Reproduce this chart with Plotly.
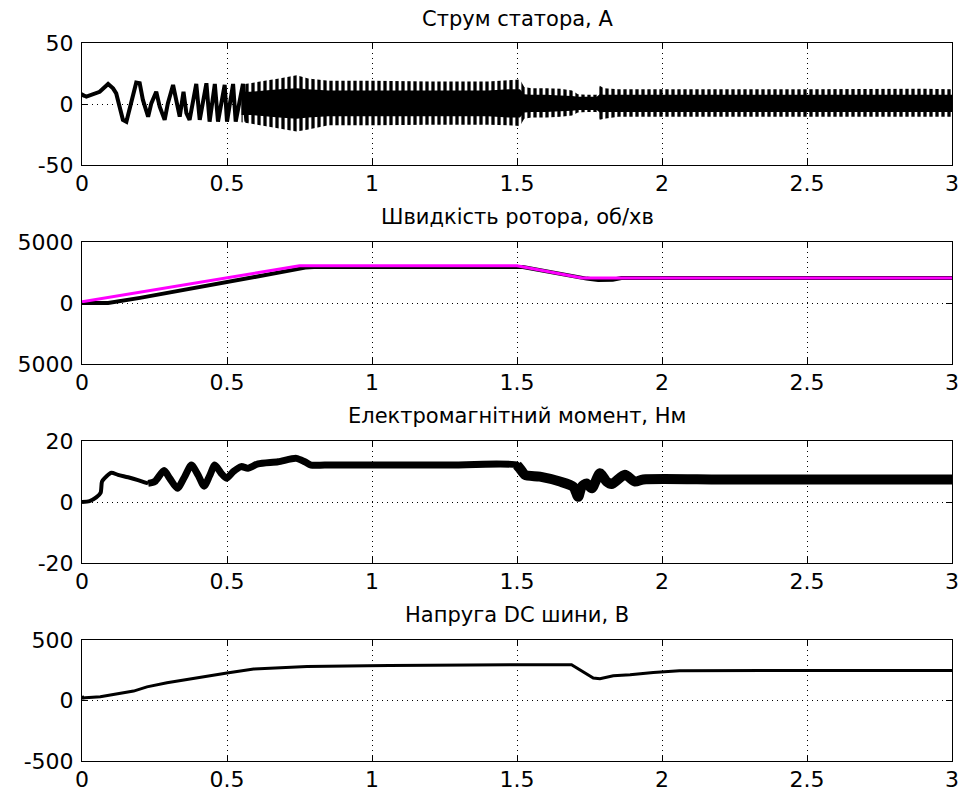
import plotly.graph_objects as go

# ---------------- data ----------------
x_ticks = [0, 0.5, 1, 1.5, 2, 2.5, 3]
x_tick_text = ["0", "0.5", "1", "1.5", "2", "2.5", "3"]

titles = ["Струм статора, А", "Швидкість ротора, об/хв",
          "Електромагнітний момент, Нм", "Напруга DC шини, В"]

# stator current: early visible waveform
cur_t = [0.0, 0.003, 0.015, 0.061, 0.09, 0.107, 0.118, 0.13, 0.141, 0.153, 0.164, 0.176,
         0.187, 0.199, 0.21, 0.228, 0.239, 0.256, 0.268, 0.285, 0.296, 0.314, 0.325, 0.337,
         0.35, 0.36, 0.371, 0.394, 0.406, 0.429, 0.44, 0.458, 0.469, 0.492, 0.5, 0.521,
         0.53, 0.555, 0.567]
cur_v = [5.8, 7.4, 6.0, 10.0, 16.4, 12.8, 8.7, -2.2, -13.0, -14.5, -4.9, 7.4,
         17.5, 17.0, 3.3, -10.4, 0.5, 10.0, -2.2, -13.0, 0.5, 15.6, 1.9, -10.4,
         10.0, -7.5, -13.0, 16.4, -13.0, 17.0, -14.5, 16.4, -14.5, 15.6, -14.5, 16.4,
         -14.5, 16.4, -14.5]

# stator current: dense oscillation envelope (outer spikes) and solid core
band_t = [0.55, 0.58, 0.63, 0.68, 0.74, 0.78, 0.85, 1.0, 1.2, 1.4, 1.47, 1.51, 1.525,
          1.55, 1.6, 1.65, 1.69, 1.71, 1.74, 1.775, 1.785, 1.80, 1.85, 2.0, 2.5, 2.9, 3.0]
band_hi = [16, 17, 19, 21, 23.5, 21, 19, 19, 18.5, 18.5, 19.5, 20, 14,
           13, 13, 12.5, 11, 8, 7.5, 7.5, 15, 13, 12, 12, 12, 12.5, 12]
band_lo = [-15, -16, -18, -20, -22.5, -21, -17.5, -17.5, -17, -17, -17.5, -18, -12,
           -11, -11, -10.5, -9.5, -7, -6.5, -6.5, -13, -12, -10.5, -10.5, -10.5, -10.5, -10.5]
core_hi = [10, 10, 11, 12, 13, 12, 11, 11, 11, 11, 12, 12, 8,
           7.5, 7.5, 7, 6.5, 6, 6, 6, 8, 7.5, 7.5, 7.5, 7.5, 7.5, 7.5]
core_lo = [-9, -9, -10, -11, -12, -11, -10, -10, -10, -10, -11, -11, -7,
           -6.5, -6.5, -6, -5.5, -5, -5, -5, -7, -6.5, -6.5, -6.5, -6.5, -6.5, -6.5]

# rotor speed: reference (magenta) and actual (black)
ref_t = [0.0, 0.75, 1.5, 1.725, 3.0]
ref_v = [100, 3050, 3050, 2050, 2050]
spd_t = [0.0, 0.09, 0.2, 0.4, 0.6, 0.77, 0.8, 1.5, 1.52, 1.74, 1.78, 1.83, 1.86, 3.0]
spd_v = [0, 0, 420, 1250, 2150, 2900, 2950, 2950, 2950, 2000, 1880, 1900, 2050, 2050]

# electromagnetic torque
trq_t = [0.0, 0.026, 0.049, 0.064, 0.069, 0.078, 0.101, 0.124, 0.159, 0.193, 0.228,
         0.251, 0.283, 0.302, 0.329, 0.354, 0.377, 0.4, 0.421, 0.44, 0.458, 0.48, 0.498,
         0.521, 0.549, 0.572, 0.607, 0.676, 0.739, 0.768, 0.79, 0.837, 1.0, 1.25, 1.5,
         1.51, 1.528, 1.579, 1.648, 1.694, 1.711, 1.723, 1.74, 1.758, 1.786, 1.809, 1.826,
         1.872, 1.907, 1.935, 2.2, 2.5, 2.8, 3.0]
trq_v = [0.0, 0.3, 1.5, 3.0, 6.7, 7.8, 9.6, 8.9, 8.1, 7.2, 6.1,
         6.7, 10.3, 7.8, 4.5, 8.3, 12.1, 8.9, 5.2, 8.6, 12.1, 9.4, 7.8,
         9.9, 11.6, 11.1, 12.5, 13.2, 14.3, 13.2, 12.1, 12.1, 12.1, 12.1, 12.1,
         11.0, 8.9, 8.3, 6.7, 5.0, 1.7, 5.0, 6.1, 4.5, 9.4, 6.7, 5.9,
         8.9, 6.7, 7.4, 7.4, 7.4, 7.4, 7.4]

# DC bus voltage
dc_t = [0.0, 0.004, 0.011, 0.063, 0.178, 0.224, 0.293, 0.362, 0.431, 0.5, 0.592, 0.684,
        0.776, 0.983, 1.05, 1.06, 1.5, 1.688, 1.763, 1.786, 1.832, 1.89, 1.97, 2.06,
        2.5, 3.0]
dc_v = [37, 20, 23, 31, 78, 113, 146, 173, 206, 228, 260, 274,
        282, 287, 293, 290, 295, 295, 186, 180, 205, 213, 232, 246,
        248, 248]

# ---------------- layout helpers ----------------
W, H = 965, 793
X0, X1 = 82, 952
boxes = [(43, 165), (242, 364), (441, 563), (640, 761)]
title_y = [19, 217, 416, 615]
y_ranges = [[-50, 50], [-5000, 5000], [-20, 20], [-500, 500]]
y_ticks = [[-50, 0, 50], [-5000, 0, 5000], [-20, 0, 20], [-500, 0, 500]]
y_tick_text = [["-50", "0", "50"], ["5000", "0", "5000"], ["-20", "0", "20"],
               ["-500", "0", "500"]]

FONT = "DejaVu Sans"
fig = go.Figure()

def ax(i):
    return ("x" if i == 0 else f"x{i+1}", "y" if i == 0 else f"y{i+1}")

# subplot 1: stator current
xa, ya = ax(0)
fig.add_trace(go.Scatter(x=band_t + band_t[::-1], y=band_hi + band_lo[::-1], fill="toself",
                         mode="none", fillcolor="rgba(0,0,0,0)",
                         fillpattern=dict(shape="|", size=6, solidity=0.55,
                                          fgcolor="black"),
                         xaxis=xa, yaxis=ya, showlegend=False, hoverinfo="skip"))
fig.add_trace(go.Scatter(x=band_t + band_t[::-1], y=core_hi + core_lo[::-1], fill="toself",
                         mode="none", fillcolor="black",
                         xaxis=xa, yaxis=ya, showlegend=False, hoverinfo="skip"))
fig.add_trace(go.Scatter(x=cur_t, y=cur_v, mode="lines", line=dict(color="black", width=4),
                         xaxis=xa, yaxis=ya, showlegend=False))

# subplot 2: speed
xa, ya = ax(1)
fig.add_trace(go.Scatter(x=spd_t, y=spd_v, mode="lines", line=dict(color="black", width=4),
                         xaxis=xa, yaxis=ya, showlegend=False))
fig.add_trace(go.Scatter(x=ref_t, y=ref_v, mode="lines", line=dict(color="#FF00FF", width=3),
                         xaxis=xa, yaxis=ya, showlegend=False))

# subplot 3: torque, drawn in segments of different thickness
xa, ya = ax(2)
segs = [(0.0, 0.23, 4), (0.228, 1.51, 7), (1.5, 3.0, 10)]
for a, b, w in segs:
    idx = [k for k, t in enumerate(trq_t) if a <= t <= b]
    fig.add_trace(go.Scatter(x=[trq_t[k] for k in idx], y=[trq_v[k] for k in idx],
                             mode="lines",
                             line=dict(color="black", width=w, shape="spline", smoothing=0.7),
                             xaxis=xa, yaxis=ya, showlegend=False))

# subplot 4: DC voltage
xa, ya = ax(3)
fig.add_trace(go.Scatter(x=dc_t, y=dc_v, mode="lines", line=dict(color="black", width=3),
                         xaxis=xa, yaxis=ya, showlegend=False))

common = dict(showline=True, linecolor="black", linewidth=1, mirror="ticks",
              ticks="inside", ticklen=6, tickcolor="black", tickwidth=1,
              showgrid=True, gridcolor="black", gridwidth=1, griddash="1px,4px",
              zeroline=False, automargin=False,
              tickfont=dict(family=FONT, size=22, color="black"))

layout = dict(width=W, height=H, margin=dict(l=0, r=0, t=0, b=0),
              paper_bgcolor="white", plot_bgcolor="white", showlegend=False,
              template="none")
annotations = []
for i in range(4):
    top, bot = boxes[i]
    xk = "xaxis" if i == 0 else f"xaxis{i+1}"
    yk = "yaxis" if i == 0 else f"yaxis{i+1}"
    xa, ya = ax(i)
    layout[xk] = dict(common, domain=[X0 / W, X1 / W], anchor=ya, range=[0, 3],
                      tickvals=x_ticks, ticktext=x_tick_text, ticklabelstandoff=-1)
    layout[yk] = dict(common, domain=[1 - bot / H, 1 - top / H], anchor=xa,
                      range=y_ranges[i], tickvals=y_ticks[i], ticktext=y_tick_text[i],
                      ticklabelstandoff=3)
    annotations.append(dict(text=titles[i], xref="paper", yref="paper",
                            x=(X0 + X1) / 2 / W, y=1 - title_y[i] / H,
                            xanchor="center", yanchor="middle", showarrow=False,
                            font=dict(family=FONT, size=21, color="black")))
layout["annotations"] = annotations
fig.update_layout(**layout)

fig.write_html("out.html")
